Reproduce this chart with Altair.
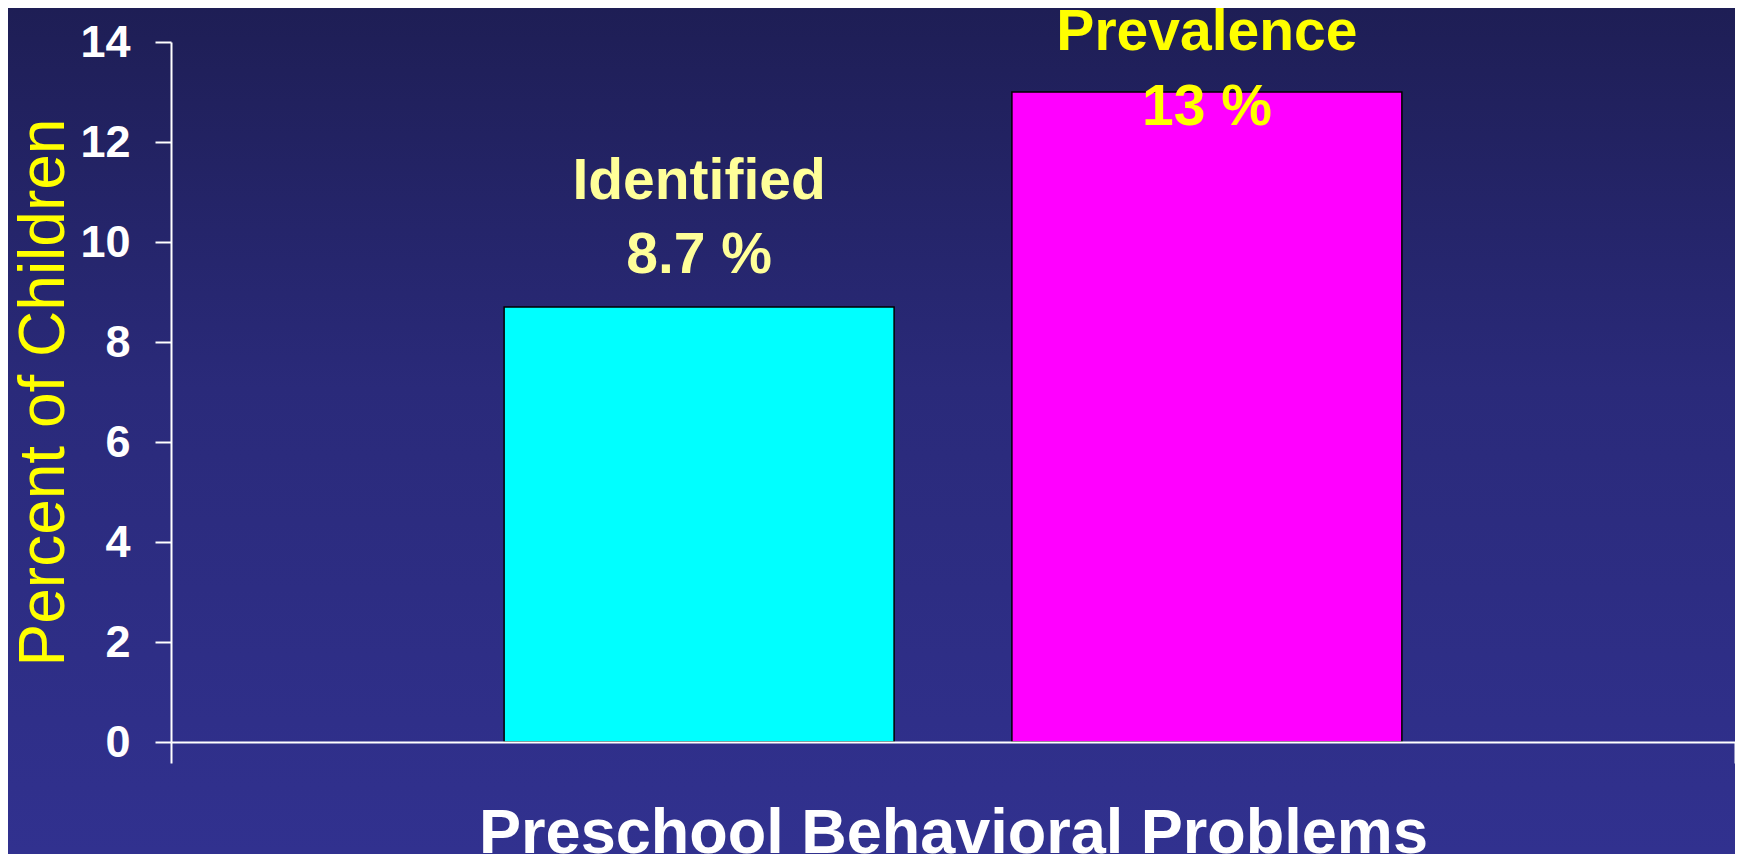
import altair as alt
import pandas as pd

# ---- data ----
categories = ["Identified", "Prevalence"]
values = [8.7, 13]
group_name = "Preschool Behavioral Problems"
y_ticks = [0, 2, 4, 6, 8, 10, 12, 14]
bar_colors = ["#00ffff", "#ff00ff"]
label_colors = ["#ffff99", "#ffff00"]

df = pd.DataFrame({"series": categories, "value": values, "group": [group_name] * len(categories)})

W, H = 1564, 700
PAD_L, PAD_T, PAD_R, PAD_B = 163, 34, 0, 112
FONT = "Liberation Sans"

x_enc = alt.X(
    "group:N",
    scale=alt.Scale(paddingInner=0, paddingOuter=0),
    axis=alt.Axis(
        labels=False, title=group_name, tickBand="extent", zindex=1,
        tickSize=21, tickWidth=2, tickColor="white",
        domainColor="white", domainWidth=2, grid=False,
        titleFont=FONT, titleFontSize=63, titleFontWeight="bold", titleColor="white",
        titleY=110, titleBaseline="alphabetic",
    ),
)
xoff_enc = alt.XOffset("series:N", scale=alt.Scale(domain=categories, paddingInner=0.232, paddingOuter=0.656))
y_enc = alt.Y(
    "value:Q",
    scale=alt.Scale(domain=[0, 14], nice=False),
    axis=alt.Axis(
        values=y_ticks, format="d", grid=False, zindex=1,
        labelFont=FONT, labelFontSize=45, labelFontWeight="bold", labelColor="white", labelPadding=25,
        tickSize=16, tickWidth=2, tickColor="white", domainColor="white", domainWidth=2,
        title="Percent of Children", titleFont=FONT, titleFontSize=64, titleFontWeight="normal",
        titleColor="#ffff00", titleAngle=270, titleX=-108, titleY=H / 2,
        titleAlign="center", titleBaseline="alphabetic",
    ),
)

bg = alt.Chart(pd.DataFrame({"k": [0]})).mark_rect(
    color=alt.Gradient(
        gradient="linear",
        stops=[alt.GradientStop(color="#1e1e55", offset=0),
               alt.GradientStop(color="#2a2a7a", offset=0.45),
               alt.GradientStop(color="#31318f", offset=1)],
        x1=0, x2=0, y1=0, y2=1,
    )
).encode(x=alt.value(-PAD_L), x2=alt.value(W + PAD_R), y=alt.value(-PAD_T), y2=alt.value(H + PAD_B))

base = alt.Chart(df)

bars = base.mark_bar(stroke="black", strokeWidth=1.5).encode(
    x=x_enc,
    xOffset=xoff_enc,
    y=y_enc,
    color=alt.Color("series:N", scale=alt.Scale(domain=categories, range=bar_colors), legend=None),
)


def label_layer(i, field, dy):
    return (
        base.transform_filter(alt.datum.series == categories[i])
        .transform_calculate(pct="format(datum.value, '.1~f') + ' %'")
        .mark_text(font=FONT, fontSize=57, fontWeight="bold", color=label_colors[i],
                   align="center", baseline="alphabetic", dy=dy)
        .encode(x=x_enc, xOffset=xoff_enc, y=y_enc, text=alt.Text(f"{field}:N"))
    )


labels = [
    label_layer(0, "series", -108),
    label_layer(0, "pct", -34),
    label_layer(1, "series", -42),
    label_layer(1, "pct", 33),
]

chart = alt.layer(bg, bars, *labels).properties(
    width=W, height=H,
    autosize=alt.AutoSizeParams(type="none"),
    padding={"left": PAD_L, "top": PAD_T, "right": PAD_R, "bottom": PAD_B},
    background="#2a2a7a",
).configure_view(stroke=None)

chart.save("out.html", embed_options={"renderer": "svg", "actions": False})
